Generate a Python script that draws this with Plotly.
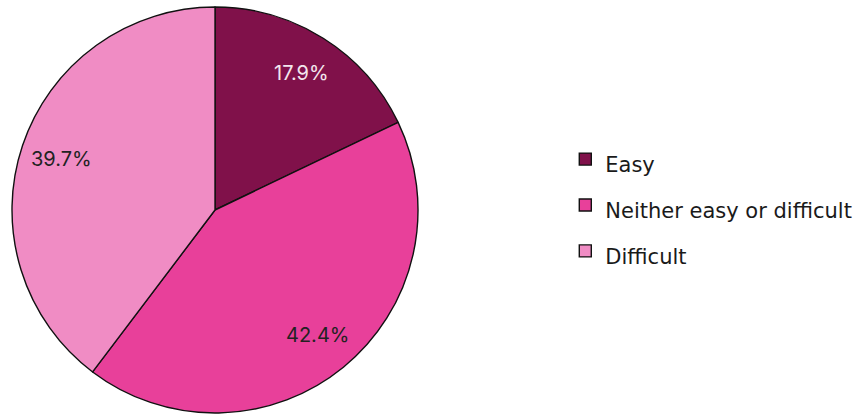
import math
import plotly.graph_objects as go

categories = ["Easy", "Neither easy or difficult", "Difficult"]
shares = [17.9, 42.4, 39.7]
slice_colors = ["#80114A", "#E8409A", "#F08CC4"]
label_colors = ["#F3E6EE", "#222222", "#222222"]

W, H = 867, 414
M_TOP, M_BOT = 7, 1
PIE_CX_PX = 215                 # horizontal centre of the pie in pixels
PIE_R_PX = (H - M_TOP - M_BOT) / 2
LABEL_RADIUS = 0.795            # fraction of the radius where value labels sit

legend_font_px = 21
legend_names = [f'<span style="font-size:{legend_font_px}px">{c}</span>' for c in categories]

fig = go.Figure(
    go.Pie(
        labels=legend_names,
        values=shares,
        sort=False,
        direction="clockwise",
        rotation=0,
        marker=dict(colors=slice_colors, line=dict(color="#111111", width=1.4)),
        textinfo="none",
        domain=dict(x=[0, 2 * PIE_CX_PX / W], y=[0, 1]),
        hovertemplate="%{label}: %{value:.1f}%<extra></extra>",
    )
)

# value labels placed along each slice's bisector
total = sum(shares)
start = 0.0
for share, col in zip(shares, label_colors):
    mid = (start + share / 2) / total * 2 * math.pi
    start += share
    fig.add_annotation(
        x=PIE_CX_PX / W,
        y=0.5,
        xref="paper",
        yref="paper",
        xanchor="center",
        yanchor="middle",
        xshift=LABEL_RADIUS * PIE_R_PX * math.sin(mid),
        yshift=LABEL_RADIUS * PIE_R_PX * math.cos(mid),
        text=f"{share:.1f}%",
        showarrow=False,
        font=dict(family="Inter", size=20, color=col),
    )

fig.update_layout(
    width=W,
    height=H,
    margin=dict(l=0, r=0, t=M_TOP, b=M_BOT),
    paper_bgcolor="white",
    plot_bgcolor="white",
    showlegend=True,
    legend=dict(
        x=0.652,
        xanchor="left",
        y=0.512,
        yanchor="middle",
        font=dict(family="DejaVu Sans", size=33, color="#1a1a1a"),
        itemclick=False,
        traceorder="normal",
    ),
)

fig.write_html("out.html")
